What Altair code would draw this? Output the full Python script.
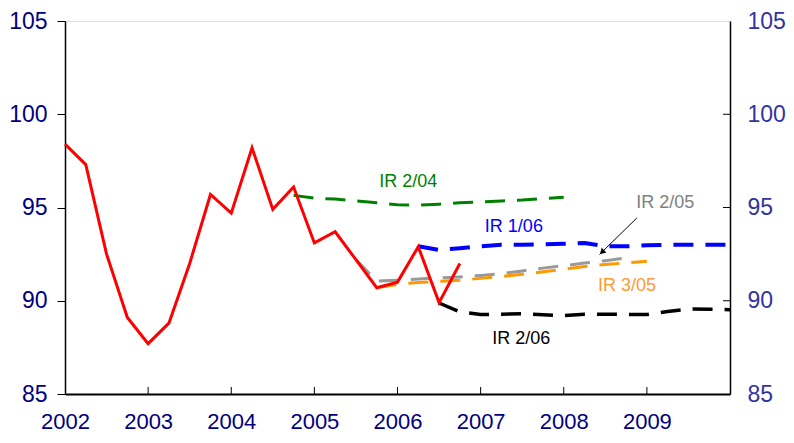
import altair as alt
import pandas as pd

W, H = 665, 373
FONT = "Liberation Sans"

# Actual (red)
red_x = [2002.0, 2002.25, 2002.5, 2002.75, 2003.0, 2003.25, 2003.5, 2003.75,
         2004.0, 2004.25, 2004.5, 2004.75, 2005.0, 2005.25, 2005.5, 2005.75,
         2006.0, 2006.25, 2006.5, 2006.75]
red_y = [98.4, 97.3, 92.5, 89.1, 87.7, 88.8, 92.0, 95.7, 94.7, 98.2, 94.9, 96.1,
         93.1, 93.7, 92.2, 90.7, 91.0, 92.9, 89.9, 92.0]

# IR 2/04 (green)
g_x = [2004.75, 2005.0, 2005.25, 2005.5, 2005.75, 2006.0, 2006.25, 2006.5,
       2006.75, 2007.0, 2007.25, 2007.5, 2007.75, 2008.0]
g_y = [95.65, 95.5, 95.45, 95.35, 95.25, 95.15, 95.12, 95.18, 95.25, 95.3,
       95.35, 95.4, 95.48, 95.55]

# IR 2/05 (grey)
s_x = [2005.5, 2005.75, 2006.0, 2006.25, 2006.5, 2006.75, 2007.0, 2007.25,
       2007.5, 2007.75, 2008.0, 2008.25, 2008.5, 2008.75]
s_y = [92.2, 91.05, 91.1, 91.17, 91.22, 91.28, 91.36, 91.45, 91.6, 91.75,
       91.88, 92.02, 92.15, 92.3]

# IR 3/05 (orange)
o_x = [2005.75, 2006.0, 2006.25, 2006.5, 2006.75, 2007.0, 2007.25, 2007.5,
       2007.75, 2008.0, 2008.25, 2008.5, 2008.75, 2009.0]
o_y = [90.7, 90.88, 90.98, 91.04, 91.1, 91.2, 91.3, 91.42, 91.55, 91.68,
       91.84, 91.95, 92.03, 92.12]

# IR 1/06 (blue)
b_x = [2006.25, 2006.5, 2006.75, 2007.0, 2007.25, 2007.5, 2007.75, 2008.0,
       2008.25, 2008.5, 2008.75, 2009.0, 2009.25, 2009.5, 2009.75, 2010.0]
b_y = [92.92, 92.72, 92.82, 92.92, 93.0, 93.0, 93.02, 93.05, 93.1, 92.92,
       92.92, 92.97, 93.0, 93.0, 93.0, 93.0]

# IR 2/06 (black)
k_x = [2006.5, 2006.75, 2007.0, 2007.25, 2007.5, 2007.75, 2008.0, 2008.25,
       2008.5, 2008.75, 2009.0, 2009.25, 2009.5, 2009.75, 2010.0]
k_y = [89.88, 89.4, 89.26, 89.28, 89.3, 89.25, 89.2, 89.28, 89.28, 89.27,
       89.26, 89.42, 89.56, 89.55, 89.52]

# Series labels
lab_text = ["IR 2/04", "IR 1/06", "IR 2/05", "IR 3/05", "IR 2/06"]
lab_x = [2006.13, 2007.40, 2009.22, 2008.76, 2007.49]
lab_y = [96.37, 93.98, 95.22, 90.80, 87.97]
lab_color = ["#008000", "#0000ff", "#808080", "#ff9933", "#000000"]

# Arrow (IR 2/05 label -> grey line)
arrow_x, arrow_y = 2008.88, 94.44
arrow_x2, arrow_y2 = 2008.43, 92.48
head_x, head_y = 2008.46, 92.60

x_ticks = [2002, 2003, 2004, 2005, 2006, 2007, 2008, 2009]
inner_x_ticks = [2003, 2004, 2005, 2006, 2007, 2008, 2009]
y_ticks = [85, 90, 95, 100, 105]
inner_y_ticks = [90, 95, 100]

x_scale = alt.Scale(domain=[2002, 2010], nice=False, zero=False)
y_scale = alt.Scale(domain=[85, 105], nice=False, zero=False)

x_axis = alt.Axis(values=x_ticks, format="d", ticks=False, labelPadding=17,
                  labelFontSize=22, labelColor="#000080", labelFont=FONT,
                  domainColor="#000000", domainWidth=2, labelFlush=False,
                  labelOverlap=False, grid=False, title=None)
y_axis = alt.Axis(values=y_ticks, orient="left", tickSize=8, tickColor="#000000",
                  tickWidth=1, domainColor="#000000", domainWidth=1.5,
                  labelFontSize=23, labelColor="#000080", labelFont=FONT,
                  labelPadding=10, grid=False, title=None)
y_axis_r = alt.Axis(values=y_ticks, orient="right", ticks=False,
                    domainColor="#000000", domainWidth=1.5,
                    labelFontSize=23, labelColor="#3333a0", labelFont=FONT,
                    labelPadding=17, grid=False, title=None)

X = lambda f: alt.X(f, scale=x_scale, axis=x_axis)
Y = lambda f: alt.Y(f, scale=y_scale, axis=y_axis)

series = [
    (g_x, g_y, "#008000", 3, [20, 12]),
    (s_x, s_y, "#999999", 3, [20, 12]),
    (o_x, o_y, "#ff9900", 3, [20, 12]),
    (b_x, b_y, "#0000ff", 4, [20, 12]),
    (k_x, k_y, "#000000", 3.5, [20, 12]),
]

layers = []
for xs, ys, col, w, dash in series:
    df = pd.DataFrame({"x": xs, "y": ys})
    layers.append(
        alt.Chart(df).mark_line(color=col, strokeWidth=w, strokeDash=dash)
        .encode(x=X("x:Q"), y=Y("y:Q"))
    )

red_df = pd.DataFrame({"x": red_x, "y": red_y})
layers.append(alt.Chart(red_df).mark_line(color="#ff0000", strokeWidth=3)
              .encode(x=X("x:Q"), y=Y("y:Q")))

lab_df = pd.DataFrame({"x": lab_x, "y": lab_y, "t": lab_text, "c": lab_color})
layers.append(alt.Chart(lab_df).mark_text(fontSize=18, font=FONT)
              .encode(x=X("x:Q"), y=Y("y:Q"), text="t:N",
                      color=alt.Color("c:N", scale=None)))

arr_df = pd.DataFrame({"x": [arrow_x], "y": [arrow_y], "x2": [arrow_x2], "y2": [arrow_y2]})
layers.append(alt.Chart(arr_df).mark_rule(color="#000000", strokeWidth=1)
              .encode(x=X("x:Q"), y=Y("y:Q"), x2="x2:Q", y2="y2:Q"))
head_df = pd.DataFrame({"x": [head_x], "y": [head_y]})
layers.append(alt.Chart(head_df).mark_point(shape="triangle-up", filled=True,
                                             color="#000000", size=45, angle=225, opacity=1)
              .encode(x=X("x:Q"), y=Y("y:Q")))

xt_df = pd.DataFrame({"t": inner_x_ticks})
layers.append(alt.Chart(xt_df).mark_rule(color="#000000", strokeWidth=1)
              .encode(x=X("t:Q"), y=alt.value(H - 7), y2=alt.value(H)))

inner = alt.layer(*layers)

yt_df = pd.DataFrame({"v": inner_y_ticks})
right = alt.Chart(yt_df).mark_rule(color="#000000", strokeWidth=1).encode(
    y=alt.Y("v:Q", scale=y_scale, axis=y_axis_r),
    x=alt.value(W - 7), x2=alt.value(W))

chart = alt.layer(inner, right).resolve_scale(y="independent").properties(
    width=W, height=H, autosize="none",
    padding={"left": 57, "top": 13, "right": 56, "bottom": 41},
).configure_view(stroke="#888888", strokeWidth=1).configure(background="white")

chart.save("out.html", embed_options={"renderer": "svg", "actions": False})
